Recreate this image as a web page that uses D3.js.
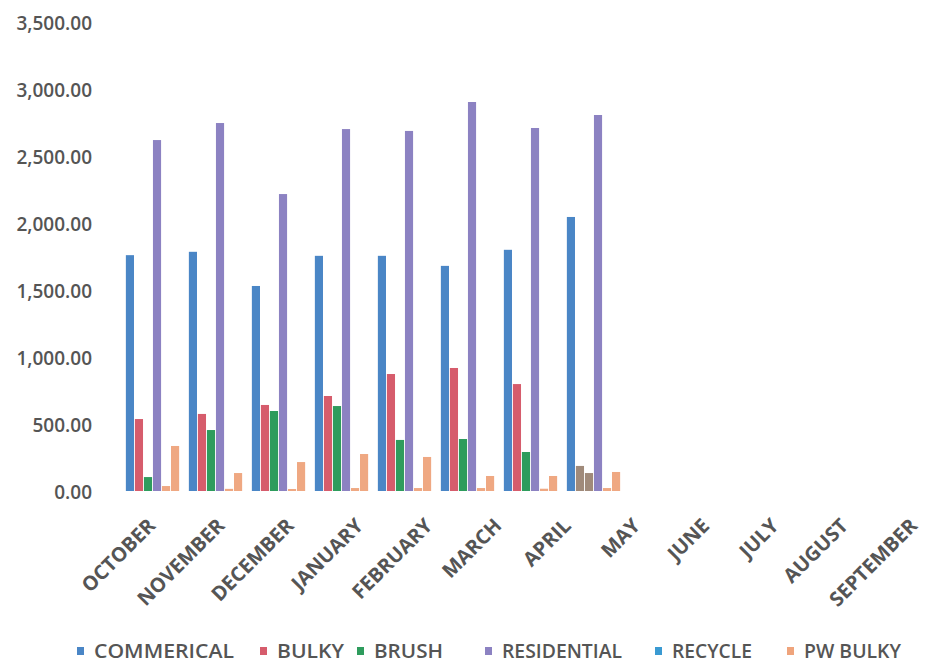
<!DOCTYPE html>
<html>
<head>
<meta charset="utf-8">
<script src="https://cdn.jsdelivr.net/npm/d3@7/dist/d3.min.js"></script>
<style>
  html, body { margin: 0; padding: 0; background: #ffffff; }
  svg { display: block; }
  text { font-family: "Open Sans", "Noto Sans", sans-serif; font-weight: 600; fill: #555555; }
</style>
</head>
<body>
<svg id="chart" width="927" height="663"></svg>
<script>
// ---------- DATA ----------
const months = ["OCTOBER", "NOVEMBER", "DECEMBER", "JANUARY", "FEBRUARY", "MARCH",
                "APRIL", "MAY", "JUNE", "JULY", "AUGUST", "SEPTEMBER"];
const seriesNames = ["COMMERICAL", "BULKY", "BRUSH", "RESIDENTIAL", "RECYCLE", "PW BULKY"];
const commercial  = [1760, 1785, 1530, 1755, 1755, 1680, 1800, 2045, null, null, null, null];
const bulky       = [537, 575, 642, 709, 873, 918, 798, 187, null, null, null, null];
const brush       = [104, 455, 597, 634, 381, 388, 291, 134, null, null, null, null];
const residential = [2619, 2746, 2216, 2701, 2687, 2903, 2709, 2806, null, null, null, null];
const recycle     = [37, 16, 15, 22, 22, 22, 17, 22, null, null, null, null];
const pwBulky     = [336, 134, 216, 276, 254, 112, 112, 142, null, null, null, null];
const yTicks      = [0, 500, 1000, 1500, 2000, 2500, 3000, 3500];

// ---------- STYLE ----------
const legendColors = ["#4a86c6", "#d65c6c", "#2e9c5d", "#8c82c2", "#3a9ad2", "#efa47c"];
const barColors    = ["#4a86c6", "#d65c6c", "#2e9c5d", "#8c82c2", "#efa882", "#efa882"];
const overrideMonth = "MAY";
const overrideSeries = ["BULKY", "BRUSH"];
const overrideColor = "#a08a7a";

const seriesValues = [commercial, bulky, brush, residential, recycle, pwBulky];
const rows = [];
months.forEach((m, i) => {
  seriesNames.forEach((s, j) => {
    const v = seriesValues[j][i];
    if (v != null) rows.push({ month: m, series: s, value: v, si: j });
  });
});

const svg = d3.select("#chart");

// ---------- SCALES ----------
const y = d3.scaleLinear().domain([0, 3500]).range([491, 22]);
const x0 = d3.scaleBand().domain(months).range([121, 121 + 12 * 63]).paddingInner(0.14).paddingOuter(0.07);
const x1 = d3.scaleBand().domain(seriesNames).range([0, x0.bandwidth()]).paddingInner(0.1).paddingOuter(0.05);
const xLabel = d3.scalePoint().domain(months).range([156, 918]);

// ---------- Y AXIS ----------
const fmt = d3.format(",.2f");
const yAxis = d3.axisLeft(y).tickValues(yTicks).tickFormat(fmt).tickSize(0).tickPadding(0);
const yg = svg.append("g").attr("transform", "translate(92,1)").call(yAxis);
yg.select(".domain").remove();
yg.selectAll("text").style("font-size", "19px").attr("fill", "#555555")
  .style("font-family", '"Open Sans", sans-serif').style("font-weight", "600");

// ---------- BARS ----------
svg.append("g").selectAll("rect").data(rows).join("rect")
  .attr("x", d => x0(d.month) + x1(d.series))
  .attr("width", x1.bandwidth())
  .attr("y", d => y(d.value))
  .attr("height", d => y(0) - y(d.value))
  .attr("fill", d => (d.month === overrideMonth && overrideSeries.includes(d.series)) ? overrideColor : barColors[d.si]);

// ---------- X AXIS LABELS ----------
const xAxis = d3.axisBottom(xLabel).tickSize(0).tickPadding(0);
const xg = svg.append("g").attr("transform", "translate(0,527)").call(xAxis);
xg.select(".domain").remove();
xg.selectAll("text")
  .attr("y", 0).attr("dy", 0)
  .attr("text-anchor", "end")
  .attr("transform", "rotate(-45)")
  .style("font-size", "20px").attr("fill", "#505050")
  .style("font-family", '"Open Sans", sans-serif').style("font-weight", "700");

// ---------- LEGEND ----------
const legendX = [77, 260, 357, 485, 655, 787];
const legendTextW = [140, 67, 69, 120, 80, 97];
const lg = svg.append("g");
seriesNames.forEach((s, i) => {
  lg.append("rect").attr("x", legendX[i]).attr("y", 647).attr("width", 7).attr("height", 8)
    .attr("fill", legendColors[i]);
  lg.append("text").attr("x", legendX[i] + 17).attr("y", 658)
    .attr("textLength", legendTextW[i]).attr("lengthAdjust", "spacingAndGlyphs")
    .style("font-size", "20px").text(s);
});
</script>
</body>
</html>
